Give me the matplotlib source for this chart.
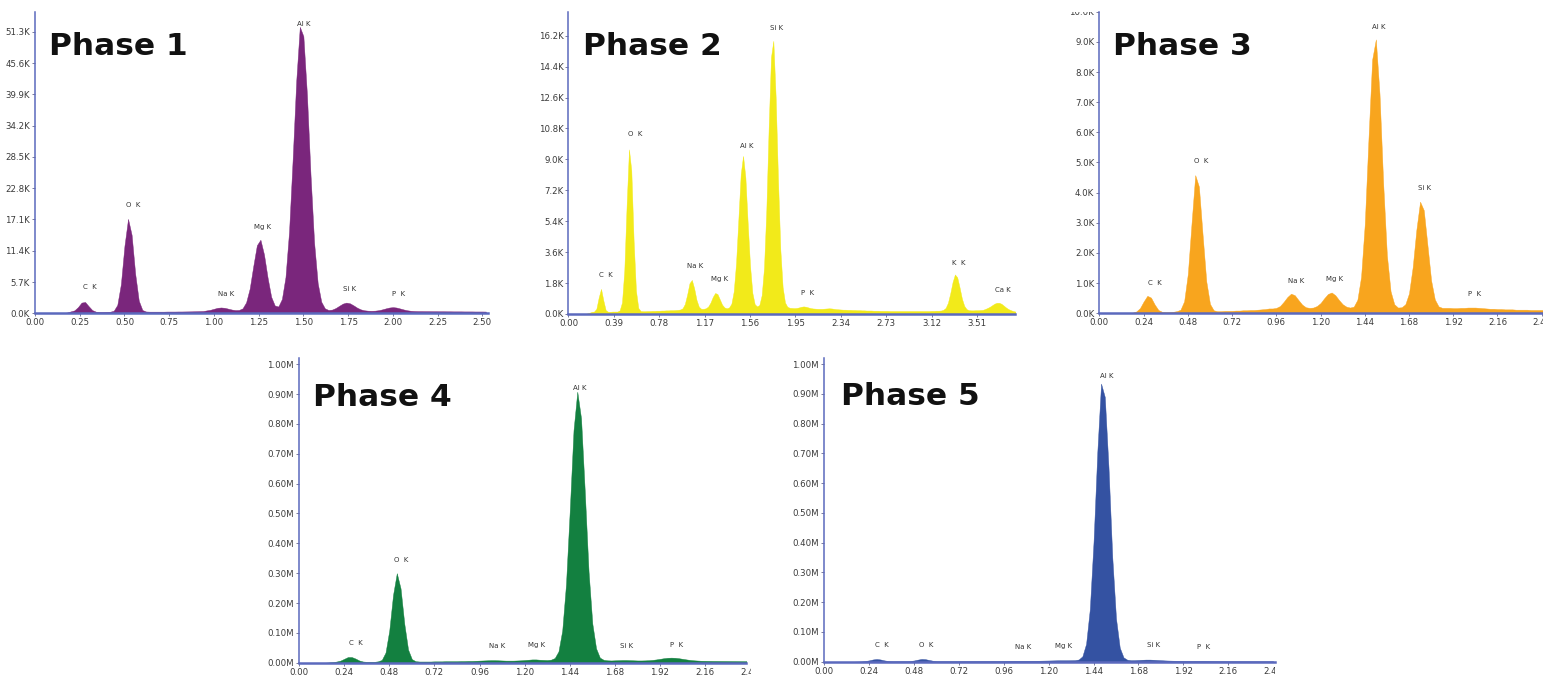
import numpy as np
import matplotlib.pyplot as plt
from matplotlib.transforms import Bbox, TransformedBbox

# ------------------------------------------------------------------
# EDX-Spektren, Kanalbreite 0.02 keV, Start bei 0.00 keV
# Werte (Phase 1-3 in K counts, Phase 4-5 in M counts)
# ------------------------------------------------------------------
STEP = 0.02

phase1_counts = [
    0, 0, 0, 0, 0, 0, 0, 0, 0.05, 0.15,
    0.35, 0.53, 1.12, 1.95, 2.06, 1.29, 0.58, 0.30, 0.25, 0.25,
    0.27, 0.29, 0.46, 1.53, 5.3, 12.3, 17.2, 14.3, 7.2, 2.3,
    0.60, 0.33, 0.30, 0.30, 0.30, 0.30, 0.30, 0.32, 0.32, 0.32,
    0.33, 0.33, 0.34, 0.35, 0.36, 0.38, 0.40, 0.42, 0.53, 0.64,
    0.82, 1.00, 1.06, 1.00, 0.84, 0.68, 0.59, 0.61, 0.90, 2.0,
    4.5, 8.6, 12.4, 13.4, 10.7, 6.5, 3.0, 1.42, 1.24, 2.6,
    6.6, 14.9, 28.0, 42.3, 52.2, 50.5, 39.8, 25.2, 12.9, 5.5,
    2.1, 0.90, 0.61, 0.67, 0.95, 1.36, 1.76, 1.95, 1.82, 1.45,
    1.03, 0.72, 0.55, 0.48, 0.46, 0.48, 0.56, 0.71, 0.89, 1.05,
    1.12, 1.05, 0.88, 0.70, 0.55, 0.46, 0.42, 0.40, 0.40, 0.39,
    0.39, 0.38, 0.38, 0.37, 0.37, 0.36, 0.36, 0.35, 0.35, 0.35,
    0.34, 0.34, 0.34, 0.33, 0.33, 0.33, 0.32,
]

phase2_counts = [
    0, 0, 0, 0, 0, 0, 0, 0, 0.03, 0.07,
    0.12, 0.14, 0.30, 0.96, 1.46, 0.78, 0.22, 0.13, 0.13, 0.14,
    0.14, 0.14, 0.21, 0.67, 2.54, 6.35, 9.58, 8.35, 4.25, 1.35,
    0.35, 0.17, 0.16, 0.16, 0.17, 0.17, 0.18, 0.18, 0.19, 0.19,
    0.20, 0.20, 0.21, 0.21, 0.22, 0.22, 0.23, 0.24, 0.26, 0.33,
    0.58, 1.13, 1.79, 1.98, 1.49, 0.82, 0.42, 0.30, 0.30, 0.33,
    0.43, 0.66, 0.99, 1.22, 1.16, 0.85, 0.54, 0.38, 0.33, 0.38,
    0.60, 1.32, 2.97, 5.53, 8.15, 9.20, 7.95, 5.26, 2.80, 1.22,
    0.57, 0.44, 0.52, 1.09, 2.68, 6.05, 10.85, 14.95, 15.9, 12.65,
    7.85, 3.78, 1.56, 0.67, 0.42, 0.36, 0.35, 0.34, 0.35, 0.38,
    0.42, 0.44, 0.42, 0.38, 0.34, 0.32, 0.31, 0.30, 0.30, 0.30,
    0.31, 0.32, 0.33, 0.32, 0.30, 0.28, 0.27, 0.26, 0.25, 0.25,
    0.24, 0.24, 0.23, 0.23, 0.22, 0.22, 0.21, 0.21, 0.20, 0.20,
    0.20, 0.19, 0.19, 0.19, 0.18, 0.18, 0.18, 0.18, 0.17, 0.17,
    0.17, 0.17, 0.17, 0.17, 0.17, 0.17, 0.17, 0.17, 0.17, 0.17,
    0.17, 0.17, 0.17, 0.17, 0.17, 0.17, 0.18, 0.18, 0.19, 0.19,
    0.20, 0.24, 0.35, 0.65, 1.20, 1.86, 2.30, 2.13, 1.54, 0.89,
    0.47, 0.28, 0.22, 0.21, 0.21, 0.22, 0.22, 0.23, 0.24, 0.29,
    0.35, 0.42, 0.51, 0.60, 0.65, 0.65, 0.59, 0.48, 0.37, 0.28,
    0.22, 0.17, 0.14,
]

phase3_counts = [
    0, 0, 0, 0, 0, 0, 0, 0, 0.01, 0.02,
    0.06, 0.17, 0.39, 0.58, 0.52, 0.29, 0.11, 0.05, 0.04, 0.04,
    0.05, 0.07, 0.12, 0.40, 1.31, 2.98, 4.58, 4.20, 2.60, 1.06,
    0.31, 0.10, 0.07, 0.07, 0.08, 0.08, 0.08, 0.09, 0.09, 0.10,
    0.10, 0.11, 0.11, 0.12, 0.13, 0.14, 0.16, 0.16, 0.18, 0.24,
    0.38, 0.54, 0.65, 0.60, 0.44, 0.29, 0.20, 0.18, 0.19, 0.24,
    0.34, 0.50, 0.64, 0.69, 0.60, 0.44, 0.30, 0.22, 0.19, 0.22,
    0.45, 1.21, 2.96, 5.77, 8.41, 9.08, 7.27, 4.29, 1.92, 0.73,
    0.30, 0.19, 0.20, 0.30, 0.66, 1.53, 2.77, 3.70, 3.42, 2.26,
    1.09, 0.46, 0.23, 0.18, 0.18, 0.18, 0.17, 0.17, 0.18, 0.18,
    0.19, 0.19, 0.19, 0.18, 0.17, 0.16, 0.15, 0.15, 0.14, 0.14,
    0.13, 0.13, 0.13, 0.12, 0.12, 0.12, 0.12, 0.11, 0.11, 0.11,
    0.11, 0.10, 0.10,
]

phase4_counts = [
    0, 0, 0, 0, 0, 0, 0, 0, 0.001, 0.002,
    0.004, 0.007, 0.013, 0.019, 0.019, 0.014, 0.0075, 0.004, 0.003, 0.003,
    0.003, 0.0046, 0.0094, 0.034, 0.108, 0.227, 0.300, 0.249, 0.130, 0.044,
    0.012, 0.005, 0.004, 0.004, 0.004, 0.004, 0.0045, 0.0045, 0.0045, 0.005,
    0.005, 0.005, 0.005, 0.0055, 0.0055, 0.006, 0.006, 0.0065, 0.007, 0.0075,
    0.008, 0.0085, 0.0085, 0.008, 0.0075, 0.007, 0.007, 0.007, 0.0075, 0.008,
    0.009, 0.010, 0.011, 0.011, 0.010, 0.0095, 0.009, 0.0102, 0.0157, 0.038,
    0.108, 0.263, 0.510, 0.779, 0.908, 0.819, 0.572, 0.306, 0.131, 0.048,
    0.017, 0.0097, 0.008, 0.0075, 0.008, 0.0085, 0.009, 0.009, 0.0085, 0.008,
    0.0075, 0.0075, 0.0078, 0.0084, 0.0095, 0.011, 0.013, 0.015, 0.0165, 0.017,
    0.0165, 0.015, 0.013, 0.011, 0.0093, 0.008, 0.0072, 0.0066, 0.0064, 0.0062,
    0.006, 0.0059, 0.0058, 0.0057, 0.0056, 0.0055, 0.0054, 0.0053, 0.0052, 0.0051,
]

phase5_counts = [
    0, 0, 0, 0, 0, 0, 0, 0, 0, 0.0005,
    0.001, 0.0025, 0.0045, 0.0075, 0.009, 0.0075, 0.0045, 0.0025, 0.0016, 0.0016,
    0.0017, 0.0018, 0.0019, 0.0024, 0.0041, 0.0069, 0.0092, 0.0085, 0.0058, 0.0033,
    0.0021, 0.0019, 0.0019, 0.0019, 0.002, 0.002, 0.002, 0.0021, 0.0021, 0.0022,
    0.0022, 0.0023, 0.0023, 0.0024, 0.0024, 0.0025, 0.0025, 0.0026, 0.0027, 0.0028,
    0.0029, 0.003, 0.003, 0.003, 0.003, 0.003, 0.0031, 0.0032, 0.0034, 0.0037,
    0.004, 0.0043, 0.0046, 0.0048, 0.0048, 0.0048, 0.005, 0.0053, 0.0073, 0.018,
    0.060, 0.177, 0.405, 0.705, 0.935, 0.890, 0.651, 0.351, 0.145, 0.047,
    0.0145, 0.0066, 0.005, 0.0052, 0.0058, 0.0065, 0.007, 0.007, 0.0065, 0.0057,
    0.005, 0.0043, 0.0038, 0.0034, 0.0031, 0.0029, 0.0027, 0.0026, 0.0026, 0.0027,
    0.0028, 0.0028, 0.0027, 0.0025, 0.0023, 0.0022, 0.0021, 0.002, 0.0019, 0.0019,
    0.0018, 0.0018, 0.0017, 0.0017, 0.0016, 0.0016, 0.0016, 0.0015, 0.0015, 0.0015,
    0.0015,
]

# Achsenbeschriftung
xticks_p1 = [0.00, 0.25, 0.50, 0.75, 1.00, 1.25, 1.50, 1.75, 2.00, 2.25, 2.50]
xticks_p2 = [0.00, 0.39, 0.78, 1.17, 1.56, 1.95, 2.34, 2.73, 3.12, 3.51]
xticks_p345 = [0.00, 0.24, 0.48, 0.72, 0.96, 1.20, 1.44, 1.68, 1.92, 2.16, 2.40]
yticks_p1 = [0.0, 5.7, 11.4, 17.1, 22.8, 28.5, 34.2, 39.9, 45.6, 51.3]
yticks_p2 = [0.0, 1.8, 3.6, 5.4, 7.2, 9.0, 10.8, 12.6, 14.4, 16.2]
yticks_p3 = [0.0, 1.0, 2.0, 3.0, 4.0, 5.0, 6.0, 7.0, 8.0, 9.0, 10.0]
yticks_p45 = [0.0, 0.1, 0.2, 0.3, 0.4, 0.5, 0.6, 0.7, 0.8, 0.9, 1.0]

# Peak-Beschriftungen: Text, Energie (keV), Höhe
labels_p1 = ['C  K', 'O  K', 'Na K', 'Mg K', 'Al K', 'Si K', 'P  K']
lx_p1 = [0.304, 0.550, 1.066, 1.272, 1.503, 1.760, 2.034]
ly_p1 = [4.86, 19.7, 3.46, 15.8, 52.8, 4.37, 3.46]

labels_p2 = ['C  K', 'O  K', 'Na K', 'Mg K', 'Al K', 'Si K', 'P  K', 'K  K', 'Ca K']
lx_p2 = [0.324, 0.573, 1.089, 1.298, 1.533, 1.785, 2.054, 3.352, 3.731]
ly_p2 = [2.27, 10.45, 2.80, 2.06, 9.80, 16.64, 1.20, 2.95, 1.40]

labels_p3 = ['C  K', 'O  K', 'Na K', 'Mg K', 'Al K', 'Si K', 'P  K']
lx_p3 = [0.302, 0.552, 1.066, 1.277, 1.514, 1.764, 2.035]
ly_p3 = [0.99, 5.04, 1.07, 1.15, 9.50, 4.16, 0.64]

labels_p4 = ['C  K', 'O  K', 'Na K', 'Mg K', 'Al K', 'Si K', 'P  K']
lx_p4 = [0.301, 0.546, 1.055, 1.264, 1.495, 1.743, 2.009]
ly_p4 = [0.066, 0.345, 0.056, 0.058, 0.922, 0.056, 0.059]

labels_p5 = ['C  K', 'O  K', 'Na K', 'Mg K', 'Al K', 'Si K', 'P  K']
lx_p5 = [0.307, 0.547, 1.064, 1.278, 1.510, 1.759, 2.030]
ly_p5 = [0.055, 0.055, 0.050, 0.053, 0.961, 0.055, 0.048]

# ------------------------------------------------------------------
# Darstellung
# ------------------------------------------------------------------
W, H = 1543, 679
AXIS_BLUE = '#5b69bd'
TICK_COL = '#3a3a3a'

fig = plt.figure(figsize=(W / 100, H / 100), dpi=100)


def draw_panel(rect, counts, xlim, ylim, xticks, yticks, unit, ndig, color,
               title, title_px, labels, lx, ly, cut_ticks=(), cut_at=1.0,
               clip_top=False):
    ax = fig.add_axes(rect)
    energy = np.arange(len(counts)) * STEP
    ax.fill_between(energy, counts, 0, color=color, lw=0.3, edgecolor=color)
    ax.set_xlim(*xlim)
    ax.set_ylim(*ylim)
    ax.set_xticks(xticks)
    ax.set_xticklabels([f"{v:.2f}" for v in xticks])
    ax.set_yticks(yticks)
    ax.set_yticklabels([f"{v:.{ndig}f}{unit}" for v in yticks])
    for s in ['top', 'right']:
        ax.spines[s].set_visible(False)
    ax.spines['left'].set_color(AXIS_BLUE)
    ax.spines['left'].set_linewidth(1.1)
    ax.spines['bottom'].set_color(AXIS_BLUE)
    ax.spines['bottom'].set_linewidth(1.8)
    ax.tick_params(direction='out', length=2.2, width=0.7, color='#7a7a9a',
                   labelsize=6.2, labelcolor=TICK_COL, pad=1.5)
    ax.patch.set_alpha(0)

    for t, x, y in zip(labels, lx, ly):
        ax.text(x, y, t, fontsize=5, ha='center', va='center', color='#333333')

    # abgeschnittene Tick-Beschriftung am rechten Bildrand
    for t in cut_ticks:
        a = ax.annotate(f"{t:.2f}", xy=(t, 0), xycoords=ax.get_xaxis_transform(),
                        xytext=(0, -3.7), textcoords='offset points',
                        ha='center', va='top', fontsize=6.2, color=TICK_COL,
                        annotation_clip=False)
        a.set_clip_box(TransformedBbox(Bbox([[0, -0.3], [cut_at, 1]]), ax.transAxes))
        a.set_clip_on(True)

    if clip_top:
        box = TransformedBbox(Bbox([[-0.3, -0.1], [1, 1]]), ax.transAxes)
        for lbl in ax.get_yticklabels():
            lbl.set_clip_box(box)
            lbl.set_clip_on(True)

    fig.text(title_px[0] / W, 1 - title_px[1] / H, title, fontsize=22.5,
             fontweight='bold', ha='left', va='baseline', color='#111111')
    return ax


draw_panel([0.02268, 0.5386, 0.2936, 0.4437], phase1_counts, (0, 2.532), (0, 54.9),
           xticks_p1, yticks_p1, 'K', 1, '#7a267c', 'Phase 1', (49, 55),
           labels_p1, lx_p1, ly_p1)

draw_panel([0.3684, 0.5376, 0.2894, 0.4452], phase2_counts, (0, 3.836), (0, 17.6),
           xticks_p2, yticks_p2, 'K', 1, '#f2ea1a', 'Phase 2', (583, 55),
           labels_p2, lx_p2, ly_p2)

draw_panel([0.7125, 0.5386, 0.2986, 0.4442], phase3_counts, (0, 2.5), (0, 10.0),
           xticks_p345, yticks_p3, 'K', 1, '#f8a51e', 'Phase 3', (1113, 55),
           labels_p3, lx_p3, ly_p3, clip_top=True)

draw_panel([0.1938, 0.0240, 0.2895, 0.4483], phase4_counts, (0, 2.376), (0, 1.02),
           xticks_p345[:-1], yticks_p45, 'M', 2, '#138040', 'Phase 4', (313, 406),
           labels_p4, lx_p4, ly_p4, cut_ticks=[2.40], cut_at=1.012)

draw_panel([0.5342, 0.0255, 0.2921, 0.4468], phase5_counts, (0, 2.41), (0, 1.02),
           xticks_p345[:-1], yticks_p45, 'M', 2, '#3452a2', 'Phase 5', (841, 405),
           labels_p5, lx_p5, ly_p5, cut_ticks=[2.40], cut_at=1.0)

fig.savefig('out.png', dpi=100)
